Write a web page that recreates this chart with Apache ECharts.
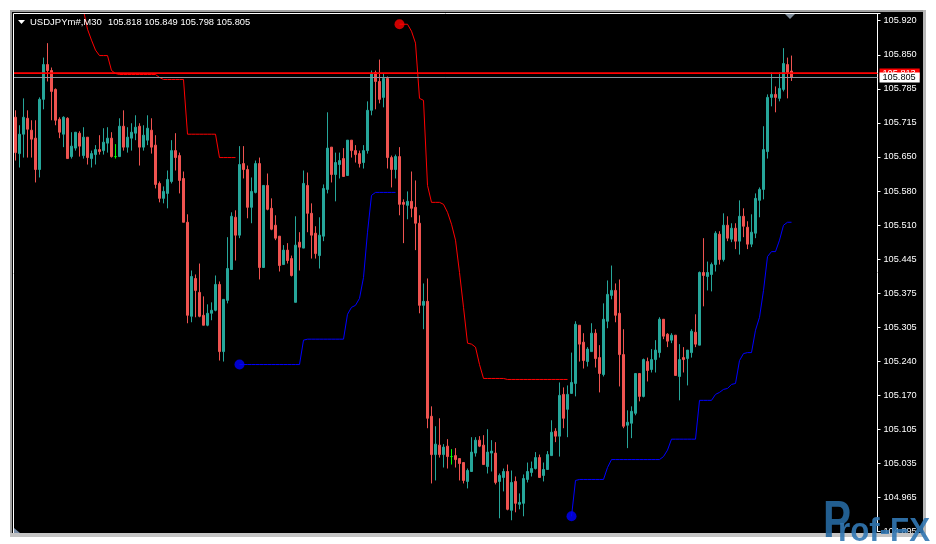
<!DOCTYPE html>
<html>
<head>
<meta charset="utf-8">
<script src="https://cdn.jsdelivr.net/npm/echarts@6/dist/echarts.min.js"></script>
<style>
html,body{margin:0;padding:0;background:#ffffff;}
#chart{width:936px;height:544px;}
</style>
</head>
<body>
<div id="chart"></div>
<script>
// ---------- DATA ----------
const symbolTitle = 'USDJPYm#,M30';
const headerOHLC = ['105.818', '105.849', '105.798', '105.805'];

const openPrices = [
105.725,105.652,105.691,105.723,105.699,105.683,105.620,105.761,105.831,105.819,
105.781,105.721,105.691,105.723,105.646,105.663,105.693,105.648,105.685,105.642,
105.650,105.660,105.658,105.673,105.683,105.646,105.646,105.707,105.665,105.683,
105.693,105.707,105.665,105.679,105.699,105.669,105.592,105.562,105.572,105.596,
105.658,105.648,105.602,105.514,105.325,105.401,105.373,105.327,105.307,105.331,
105.337,105.389,105.254,105.357,105.419,105.524,105.488,105.632,105.620,105.544,
105.574,105.632,105.423,105.588,105.542,105.508,105.486,105.429,105.458,105.441,
105.353,105.474,105.462,105.588,105.532,105.492,105.447,105.486,105.580,105.665,
105.610,105.630,105.642,105.608,105.679,105.658,105.652,105.634,105.658,105.739,
105.815,105.797,105.765,105.803,105.644,105.620,105.646,105.554,105.548,105.556,
105.544,105.512,105.347,105.355,105.124,105.047,105.066,105.047,105.064,105.043,
105.045,105.039,105.031,104.993,105.013,105.050,105.076,105.066,105.023,105.050,
105.050,104.993,105.001,105.013,104.935,104.993,104.947,104.949,104.997,105.011,
105.019,105.041,105.005,105.017,105.045,105.094,105.084,105.168,105.138,105.170,
105.190,105.307,105.273,105.234,105.254,105.291,105.242,105.208,105.315,105.367,
105.377,105.331,105.248,105.106,105.110,105.130,105.210,105.164,105.234,105.218,
105.238,105.252,105.319,105.289,105.277,105.287,105.204,105.242,105.240,105.252,
105.293,105.267,105.413,105.405,105.409,105.429,105.490,105.439,105.508,105.480,
105.502,105.476,105.526,105.504,105.470,105.492,105.558,105.580,105.656,105.765,
105.771,105.763,105.781,105.831,105.818
];
const closePrices = [
105.654,105.691,105.725,105.701,105.681,105.620,105.761,105.831,105.819,105.777,
105.719,105.695,105.725,105.642,105.667,105.695,105.667,105.685,105.644,105.652,
105.660,105.656,105.675,105.683,105.646,105.646,105.707,105.665,105.685,105.695,
105.705,105.665,105.689,105.703,105.665,105.590,105.562,105.576,105.600,105.658,
105.644,105.598,105.514,105.327,105.405,105.377,105.325,105.307,105.331,105.337,
105.389,105.254,105.359,105.421,105.526,105.488,105.630,105.620,105.544,105.576,
105.632,105.423,105.588,105.540,105.500,105.482,105.427,105.458,105.437,105.407,
105.468,105.464,105.592,105.532,105.488,105.451,105.488,105.582,105.663,105.610,
105.634,105.638,105.606,105.679,105.658,105.650,105.632,105.658,105.739,105.813,
105.797,105.761,105.803,105.644,105.620,105.646,105.550,105.550,105.556,105.542,
105.512,105.347,105.355,105.120,105.047,105.068,105.047,105.062,105.043,105.043,
105.037,105.029,104.995,105.015,105.052,105.076,105.064,105.027,105.052,105.054,
104.991,105.005,105.013,104.937,104.991,104.949,104.951,104.999,105.013,105.019,
105.041,105.001,105.017,105.047,105.092,105.084,105.166,105.120,105.168,105.192,
105.309,105.269,105.236,105.259,105.291,105.240,105.210,105.319,105.369,105.377,
105.327,105.248,105.104,105.112,105.134,105.210,105.164,105.238,105.216,105.238,
105.257,105.319,105.285,105.275,105.287,105.206,105.238,105.238,105.257,105.295,
105.269,105.413,105.407,105.413,105.429,105.492,105.439,105.508,105.482,105.502,
105.476,105.526,105.506,105.470,105.494,105.562,105.580,105.660,105.765,105.771,
105.765,105.783,105.833,105.815,105.805
];
const lowPrices = [
105.638,105.624,105.644,105.644,105.644,105.594,105.604,105.741,105.797,105.719,
105.709,105.683,105.665,105.642,105.642,105.658,105.646,105.642,105.630,105.624,
105.630,105.650,105.650,105.654,105.644,105.642,105.646,105.658,105.654,105.658,
105.679,105.628,105.658,105.669,105.652,105.582,105.554,105.552,105.542,105.592,
105.618,105.572,105.514,105.311,105.313,105.323,105.323,105.307,105.305,105.317,
105.335,105.236,105.234,105.351,105.419,105.437,105.482,105.602,105.522,105.512,
105.572,105.399,105.423,105.538,105.498,105.478,105.415,105.429,105.431,105.405,
105.353,105.417,105.462,105.494,105.441,105.441,105.421,105.476,105.572,105.594,
105.556,105.602,105.606,105.608,105.644,105.634,105.624,105.622,105.652,105.729,
105.741,105.753,105.745,105.622,105.584,105.602,105.528,105.472,105.520,105.524,
105.458,105.331,105.299,105.100,104.989,104.995,105.041,105.021,105.019,105.027,
105.021,104.995,104.989,104.979,105.013,105.043,105.062,105.027,105.009,105.013,
104.987,104.919,104.973,104.935,104.915,104.931,104.937,104.923,104.991,105.003,
105.017,105.001,104.993,105.017,105.045,105.072,105.043,105.100,105.082,105.170,
105.164,105.234,105.220,105.224,105.254,105.222,105.172,105.204,105.301,105.359,
105.313,105.184,105.100,105.060,105.080,105.126,105.154,105.162,105.194,105.212,
105.212,105.242,105.279,105.263,105.271,105.206,105.156,105.212,105.186,105.242,
105.263,105.267,105.345,105.377,105.375,105.415,105.429,105.435,105.476,105.474,
105.460,105.449,105.484,105.460,105.464,105.482,105.524,105.560,105.642,105.747,
105.735,105.757,105.777,105.763,105.798
];
const highPrices = [
105.739,105.709,105.763,105.739,105.719,105.719,105.765,105.845,105.874,105.825,
105.783,105.725,105.727,105.725,105.695,105.695,105.697,105.705,105.685,105.658,
105.669,105.689,105.703,105.705,105.695,105.671,105.723,105.739,105.705,105.713,
105.729,105.713,105.709,105.729,105.723,105.689,105.596,105.586,105.618,105.679,
105.693,105.654,105.616,105.530,105.417,105.409,105.431,105.365,105.349,105.353,
105.407,105.395,105.359,105.484,105.534,105.538,105.667,105.667,105.628,105.604,
105.638,105.644,105.588,105.612,105.562,105.528,105.486,105.468,105.472,105.447,
105.526,105.494,105.618,105.614,105.552,105.506,105.524,105.590,105.735,105.665,
105.654,105.654,105.663,105.679,105.679,105.669,105.658,105.669,105.757,105.819,
105.819,105.841,105.813,105.807,105.648,105.650,105.665,105.560,105.576,105.616,
105.598,105.528,105.391,105.401,105.144,105.104,105.120,105.068,105.078,105.058,
105.060,105.039,105.031,105.019,105.082,105.082,105.084,105.086,105.098,105.076,
105.072,105.009,105.019,105.027,105.015,105.003,104.969,105.007,105.031,105.033,
105.052,105.047,105.031,105.054,105.116,105.100,105.192,105.182,105.186,105.252,
105.315,105.307,105.291,105.263,105.311,105.299,105.267,105.351,105.397,105.427,
105.391,105.399,105.299,105.136,105.144,105.210,105.210,105.240,105.242,105.259,
105.277,105.323,105.319,105.291,105.291,105.287,105.269,105.263,105.257,105.299,
105.329,105.415,105.482,105.435,105.433,105.496,105.496,105.532,105.526,105.512,
105.512,105.558,105.542,105.516,105.530,105.572,105.584,105.707,105.771,105.815,
105.787,105.815,105.864,105.845,105.849
];

// stop-line indicator (red = resistance, blue = support), each segment with its first bar index
const redStopAStart = 17;
const redStopA = [105.940,105.902,105.880,105.860,105.849,105.849,105.849,105.819,105.813,
  105.811,105.811,105.811,105.811,105.811,105.811,105.811,105.811,105.811,105.811,
  105.805,105.801,105.801,105.801,105.801,105.801,105.801,
  105.691,105.691,105.691,105.691,105.691,105.691,105.691,105.691,
  105.644,105.644,105.644,105.644,105.644];
const redStopBStart = 96;
const redStopB = [105.912,105.912,105.912,105.898,105.874,105.763,105.759,105.588,
  105.554,105.554,105.554,105.550,105.534,105.510,105.478,105.413,105.343,105.271,105.269,105.263,105.228,
  105.200,105.200,105.200,105.200,105.200,105.200,
  105.198,105.198,105.198,105.198,105.198,105.198,105.198,105.198,
  105.198,105.198,105.198,105.198,105.198,105.198,105.198,105.198];
const blueStopAStart = 56;
const blueStopA = [105.228,105.228,105.228,105.228,105.228,105.228,105.228,105.228,
  105.228,105.228,105.228,105.228,105.228,105.228,105.228,105.228,
  105.277,105.279,105.279,105.279,105.279,105.279,105.279,105.279,105.279,105.279,105.279,
  105.329,105.343,105.347,105.361,105.403,105.494,105.568,
  105.574,105.574,105.574,105.574,105.574,105.574];
const blueStopBStart = 139;
const blueStopB = [104.923,104.995,104.997,104.997,104.997,104.997,104.997,104.997,104.997,
  105.021,105.037,105.037,105.037,105.037,105.037,105.037,105.037,105.037,105.037,105.037,105.037,105.037,105.037,
  105.043,105.056,105.078,105.078,105.078,105.078,105.078,105.078,105.078,
  105.156,105.156,105.156,105.156,105.168,105.172,105.178,105.180,105.188,105.190,
  105.236,105.250,105.252,105.252,105.297,105.323,105.377,105.445,105.455,105.455,
  105.478,105.508,105.514,105.514];

const redDotIndex = [96];
const redDotValue = [105.912];
const blueDotIndex = [56, 139];
const blueDotValue = [105.228, 104.923];

const askPrice = 105.813;
const bidPrice = 105.805;

const yTickLabels = ['105.920','105.850','105.785','105.715','105.650','105.580','105.510','105.445',
  '105.375','105.305','105.240','105.170','105.105','105.035','104.965','104.895'];

const shiftBars = 21; // empty chart-shift space right of the last bar

// ---------- BUILD ----------
const nBars = openPrices.length;
const nSlots = nBars + shiftBars;
const categories = [];
for (let i = 0; i < nSlots; i++) categories.push(String(i));

const UP = '#26a69a', DOWN = '#ef5350', DOJI = '#00ff00';
const candleData = [];
for (let i = 0; i < nBars; i++) {
  const v = [openPrices[i], closePrices[i], lowPrices[i], highPrices[i]];
  if (openPrices[i] === closePrices[i]) {
    candleData.push({ value: v, itemStyle: { color: DOJI, color0: DOJI, borderColor: DOJI, borderColor0: DOJI, borderColorDoji: DOJI } });
  } else {
    candleData.push(v);
  }
}

function placeSegment(start, vals) {
  const arr = new Array(nSlots).fill(null);
  vals.forEach((v, k) => { arr[start + k] = v; });
  return arr;
}

const redA = placeSegment(redStopAStart, redStopA);
const redB = placeSegment(redStopBStart, redStopB);
const blueA = placeSegment(blueStopAStart, blueStopA);
const blueB = placeSegment(blueStopBStart, blueStopB);

const FONT = 'Liberation Sans, Arial, sans-serif';

// plot box
const G_LEFT = 13.5, G_RIGHT_X = 877.5, G_TOP = 13.5, G_BOTTOM_Y = 531.5;
const PRICE_MAX = 105.9336, PRICE_MIN = 104.8924;
const LABEL_AXIS_MAX = 15.2116;

const chart = echarts.init(document.getElementById('chart'), null, { renderer: 'canvas' });

const priceLabelBase = { show: true, position: 'end', distance: 2, fontSize: 9.2, fontFamily: FONT,
  padding: [1, 4, 0, 3], lineHeight: 9 };

const baseGraphic = [
  { type: 'rect', z: 0, shape: { x: 12, y: 12, width: 911, height: 521 }, style: { fill: '#000000' }, silent: true },
  { type: 'line', z: 10, shape: { x1: G_LEFT, y1: 13.5, x2: G_RIGHT_X, y2: 13.5 }, style: { stroke: '#ffffff', lineWidth: 1 }, silent: true },
  { type: 'line', z: 10, shape: { x1: G_LEFT, y1: 13.5, x2: G_LEFT, y2: 533 }, style: { stroke: '#ffffff', lineWidth: 1 }, silent: true },
  { type: 'polygon', z: 10, shape: { points: [[18, 20], [25, 20], [21.5, 24]] }, style: { fill: '#ffffff' }, silent: true },
  { type: 'text', z: 10, x: 30, y: 22.5, style: { text: symbolTitle, fill: '#ffffff', font: '9.5px ' + FONT, textVerticalAlign: 'middle' }, silent: true },
  { type: 'text', z: 10, x: 108, y: 22.5, style: { text: headerOHLC.join(' '), fill: '#ffffff', font: '9.3px ' + FONT, textVerticalAlign: 'middle' }, silent: true },
  { type: 'polygon', z: 10, shape: { points: [[785, 14], [795, 14], [790, 19]] }, style: { fill: '#7f8c99' }, silent: true },
  { type: 'polygon', z: 10, shape: { points: [[14, 528], [14, 533], [20, 533]] }, style: { fill: '#7a8ea8' }, silent: true },
  { type: 'rect', z: 100, shape: { x: 10, y: 10, width: 2, height: 524 }, style: { fill: '#a0a0a0' }, silent: true },
  { type: 'rect', z: 100, shape: { x: 10, y: 10, width: 915, height: 2 }, style: { fill: '#a0a0a0' }, silent: true },
  { type: 'rect', z: 100, shape: { x: 923, y: 10, width: 3, height: 527 }, style: { fill: '#b8b8b8' }, silent: true },
  { type: 'rect', z: 100, shape: { x: 0, y: 533, width: 936, height: 11 }, style: { fill: '#ffffff' }, silent: true },
  { type: 'rect', z: 100, shape: { x: 10, y: 533, width: 916, height: 4 }, style: { fill: '#c4c4c4' }, silent: true },
  { type: 'rect', z: 100, shape: { x: 926, y: 0, width: 10, height: 544 }, style: { fill: '#ffffff' }, silent: true },
  { type: 'text', z: 101, x: 823, y: 496, scaleY: 1.25, style: { text: 'P', fill: 'rgba(38,104,160,0.9)', font: 'bold 42px ' + FONT, textVerticalAlign: 'top' }, silent: true },
  { type: 'text', z: 101, x: 838, y: 532, scaleX: 0.92, style: { text: 'rof-FX', fill: 'rgba(50,120,180,0.9)', font: 'bold 34px ' + FONT, textVerticalAlign: 'middle' }, silent: true }
];

const option = {
  animation: false,
  backgroundColor: '#ffffff',
  grid: { left: G_LEFT, right: 936 - G_RIGHT_X, top: G_TOP, bottom: 544 - G_BOTTOM_Y, show: false },
  xAxis: { type: 'category', data: categories, boundaryGap: true, show: false },
  yAxis: [
    { type: 'value', min: PRICE_MIN, max: PRICE_MAX, show: false, splitLine: { show: false } },
    {
      type: 'value', position: 'right', min: 0, max: LABEL_AXIS_MAX, interval: 1,
      axisLine: { show: true, onZero: false, lineStyle: { color: '#ffffff', width: 1 } },
      axisTick: { show: true, length: 3, inside: false, lineStyle: { color: '#ffffff', width: 1 } },
      splitLine: { show: false },
      axisLabel: {
        show: true, margin: 6, color: '#ffffff', fontSize: 9.2, fontFamily: FONT,
        formatter: function (v) {
          const r = Math.round(v);
          if (Math.abs(v - r) > 1e-6 || r < 0 || r > 15) return '';
          return yTickLabels[15 - r];
        }
      }
    }
  ],
  series: [
    {
      type: 'candlestick', name: 'USDJPY', data: candleData, barWidth: 2, z: 3,
      itemStyle: { color: UP, color0: DOWN, borderColor: UP, borderColor0: DOWN, borderWidth: 1 },
      emphasis: { disabled: true },
      markLine: {
        silent: true, symbol: ['none', 'none'], animation: false, precision: 3, z: 8,
        lineStyle: { color: '#8c96a0', width: 1, type: 'solid' },
        label: Object.assign({}, priceLabelBase, { formatter: bidPrice.toFixed(3), color: '#000000', backgroundColor: '#ffffff' }),
        emphasis: { disabled: true },
        data: [{ yAxis: bidPrice }]
      }
    },
    { type: 'line', name: 'stopRedA', data: redA, symbol: 'none', connectNulls: false, z: 4, silent: true,
      lineStyle: { color: '#ff0000', width: 1 },
      markLine: {
        silent: true, symbol: ['none', 'none'], animation: false, precision: 3, z: 7,
        lineStyle: { color: '#ff0000', width: 1, type: 'solid', opacity: 1 },
        label: Object.assign({}, priceLabelBase, { formatter: askPrice.toFixed(3), color: '#ffffff', backgroundColor: '#ff0000' }),
        emphasis: { disabled: true },
        data: [{ yAxis: askPrice }]
      }
    },
    { type: 'line', name: 'stopRedB', data: redB, symbol: 'none', connectNulls: false, z: 4, silent: true,
      lineStyle: { color: '#ff0000', width: 1 } },
    { type: 'line', name: 'stopBlueA', data: blueA, symbol: 'none', connectNulls: false, z: 4, silent: true,
      lineStyle: { color: '#0000ff', width: 1 } },
    { type: 'line', name: 'stopBlueB', data: blueB, symbol: 'none', connectNulls: false, z: 4, silent: true,
      lineStyle: { color: '#0000ff', width: 1 } },
    { type: 'scatter', name: 'sellDot', data: redDotIndex.map((i, k) => [i, redDotValue[k]]), symbol: 'circle', symbolSize: 10,
      itemStyle: { color: '#ff0000' }, z: 6, silent: true },
    { type: 'scatter', name: 'buyDot', data: blueDotIndex.map((i, k) => [i, blueDotValue[k]]), symbol: 'circle', symbolSize: 10,
      itemStyle: { color: '#0000ff' }, z: 6, silent: true }
  ],
  graphic: baseGraphic
};

chart.setOption(option);

// Re-stroke the bid/ask price lines at the positions given by the chart's own price scale
const yAsk = chart.convertToPixel({ yAxisIndex: 0 }, askPrice);
const yBid = chart.convertToPixel({ yAxisIndex: 0 }, bidPrice);
const extra = [];
if (isFinite(yBid)) {
  extra.push({ type: 'line', z: 20, shape: { x1: G_LEFT + 0.5, y1: Math.floor(yBid) + 0.5, x2: G_RIGHT_X - 0.5, y2: Math.floor(yBid) + 0.5 },
    style: { stroke: '#8c96a0', lineWidth: 1 }, silent: true });
}
if (isFinite(yAsk)) {
  extra.push({ type: 'line', z: 21, shape: { x1: G_LEFT + 0.5, y1: Math.round(yAsk), x2: G_RIGHT_X - 0.5, y2: Math.round(yAsk) },
    style: { stroke: '#ff0000', lineWidth: 1.6 }, silent: true });
}
chart.setOption({ graphic: baseGraphic.concat(extra) });
</script>
</body>
</html>
